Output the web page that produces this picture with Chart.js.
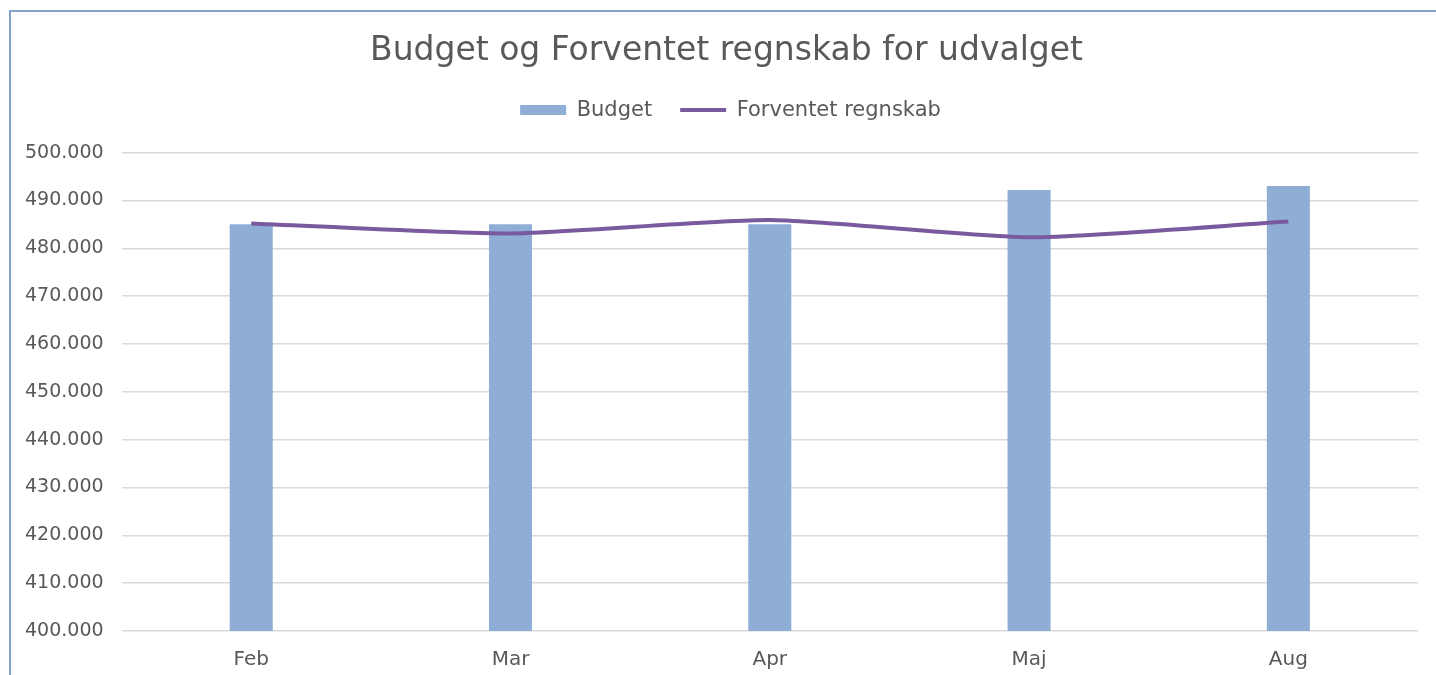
<!DOCTYPE html>
<html>
<head>
<meta charset="utf-8">
<script src="https://cdn.jsdelivr.net/npm/chart.js@4"></script>
<style>
  html, body { margin: 0; padding: 0; background: #fff; overflow: hidden; }
  #frame { position: absolute; left: 9px; top: 10px; width: 1500px; height: 700px;
           border-left: 2px solid #86a3c9; border-top: 2px solid #86a3c9; }
  #wrap { position: absolute; left: 0; top: 0; width: 1436px; height: 675px; overflow: hidden; }
</style>
</head>
<body>
<div id="frame"></div>
<div id="wrap"><canvas id="chart"></canvas></div>
<script>
const months = ['Feb', 'Mar', 'Apr', 'Maj', 'Aug'];
const budget = [485000, 485000, 485000, 492200, 493000];
const forventet = [485200, 483100, 485900, 482300, 485600];

const fontFamily = '"DejaVu Sans", sans-serif';
const textColor = '#595959';

function fmt(v) {
  return String(v).replace(/\B(?=(\d{3})+(?!\d))/g, '.');
}

// line first so it is drawn on top of the bars
const data = {
  labels: months,
  datasets: [
    {
      type: 'line',
      label: 'Forventet regnskab',
      data: forventet,
      borderColor: '#7a5a9f',
      backgroundColor: '#7a5a9f',
      borderWidth: 4,
      pointRadius: 0,
      pointStyle: 'line',
      tension: 0.2
    },
    {
      type: 'bar',
      label: 'Budget',
      data: budget,
      backgroundColor: '#8faed6',
      pointStyle: 'rect',
      categoryPercentage: 1,
      barPercentage: 0.166
    }
  ]
};

// push the plot down under the legend, and nudge title/legend right
const tweaks = {
  id: 'tweaks',
  beforeInit(chart) {
    const fit = chart.legend.fit;
    chart.legend.fit = function() {
      fit.call(this);
      this.height += 22;
    };
  },
  afterLayout(chart) {
    chart.titleBlock.left += 14;
    chart.titleBlock.right += 14;
    chart.legend.left += 18;
    chart.legend.right += 18;
  }
};

const options = {
  responsive: false,
  animation: false,
  layout: { padding: { left: 7, right: 18, top: 0, bottom: 0 } },
  plugins: {
    title: {
      display: true,
      text: 'Budget og Forventet regnskab for udvalget',
      color: textColor,
      font: { family: fontFamily, size: 33, weight: 'normal' },
      padding: { top: 32, bottom: 0 }
    },
    legend: {
      labels: {
        color: textColor,
        font: { family: fontFamily, size: 21 },
        usePointStyle: true,
        pointStyleWidth: 46,
        boxHeight: 10,
        padding: 28,
        sort: (a, b) => b.datasetIndex - a.datasetIndex
      }
    },
    tooltip: { enabled: false }
  },
  scales: {
    x: {
      grid: { display: false },
      border: { display: false },
      ticks: { color: textColor, font: { family: fontFamily, size: 20 }, padding: 9 }
    },
    y: {
      min: 400000,
      max: 500000,
      grid: { color: '#d9d9d9', lineWidth: 1.5, drawTicks: false },
      border: { display: false },
      ticks: {
        stepSize: 10000,
        color: textColor,
        font: { family: fontFamily, size: 19 },
        padding: 18,
        callback: v => fmt(v)
      }
    }
  }
};

const canvas = document.getElementById('chart');
canvas.width = 1436;
canvas.height = 681;
new Chart(canvas, { data: data, options: options, plugins: [tweaks] });
</script>
</body>
</html>
